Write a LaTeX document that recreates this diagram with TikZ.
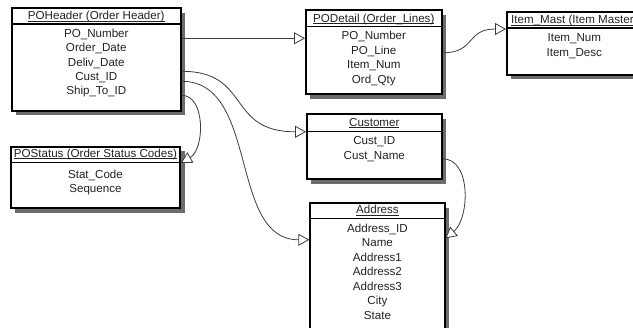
\documentclass[tikz,border=0pt]{standalone}
\usepackage{fontspec}
\setmainfont{Liberation Sans}
\usetikzlibrary{arrows.meta,calc,shadows}
\definecolor{shade}{RGB}{108,108,108}
\definecolor{ink}{RGB}{35,35,35}
\definecolor{wire}{RGB}{60,60,60}
% underlined table title, rule just below the baseline
\newcommand\ttl[1]{\setbox0\hbox{#1}\rlap{\rule[-1.7pt]{\wd0}{0.7pt}}\box0}
% column names of a table: name, first baseline below top, spacing, list
\newcommand\tablerows[4]{%
  \foreach \txt [count=\k] in {#4}
    \node[rowtxt] (#1-\k) at ($(#1.north)+(0,{#2+(\k-1)*#3})$) {\txt};}
% line under the title of a table
\newcommand\tablesep[2]{\draw[sepline] ($(#1.north west)+(0,#2)$) -- ($(#1.north east)+(0,#2)$);}

\begin{document}
\begin{tikzpicture}[x=1pt,y=-1pt,
  font=\fontsize{11.6}{14}\selectfont,
  tbl/.style={draw=black, line width=1.6pt, fill=white, inner sep=0pt, anchor=north west,
    drop shadow={shadow xshift=4.5pt, shadow yshift=-4.5pt, fill=shade, opacity=1}},
  sepline/.style={draw=black, line width=1.5pt},
  ttlnode/.style={anchor=base, inner sep=0pt, text=ink},
  rowtxt/.style={anchor=base, inner sep=0pt, text=ink},
  link/.style={draw=wire, line width=0.8pt, -{Triangle[length=11pt,width=12pt,fill=white]}}
]
\useasboundingbox (0,0) rectangle (633,328);
\fill[white] (0,0) rectangle (633,328);
\clip (0,0) rectangle (633,328);

% ---- POHeader
\node[tbl, minimum width=169pt, minimum height=102.7pt] (poh) at (11,7.3) {};
\tablesep{poh}{16.7}
\node[ttlnode] (poh-t) at ($(poh.north)+(0,12.7)$) {\ttl{POHeader (Order Header)}};
\tablerows{poh}{30}{14.4}{PO\_Number,Order\_Date,Deliv\_Date,Cust\_ID,Ship\_To\_ID}

% ---- PODetail
\node[tbl, minimum width=136pt, minimum height=84pt] (pod) at (305,9.3) {};
\tablesep{pod}{17.4}
\node[ttlnode] (pod-t) at ($(pod.north)+(0,13)$) {\ttl{PODetail (Order\_Lines)}};
\tablerows{pod}{30.7}{14.5}{PO\_Number,PO\_Line,Item\_Num,Ord\_Qty}

% ---- Item_Mast
\node[tbl, minimum width=135pt, minimum height=63pt] (itm) at (506,11) {};
\tablesep{itm}{17}
\node[ttlnode, anchor=base west] (itm-t) at ($(itm.north west)+(5,13)$) {\ttl{Item\_Mast (Item Master}};
\tablerows{itm}{31}{14.5}{Item\_Num,Item\_Desc}

% ---- Customer
\node[tbl, minimum width=135pt, minimum height=65pt] (cus) at (306,113.3) {};
\tablesep{cus}{18.4}
\node[ttlnode] (cus-t) at ($(cus.north)+(0,13.2)$) {\ttl{Customer}};
\tablerows{cus}{31.7}{14.3}{Cust\_ID,Cust\_Name}

% ---- Address
\node[tbl, minimum width=134.7pt, minimum height=140pt] (adr) at (309.3,202.3) {};
\tablesep{adr}{16.4}
\node[ttlnode] (adr-t) at ($(adr.north)+(0,11.7)$) {\ttl{Address}};
\tablerows{adr}{30}{14.5}{Address\_ID,Name,Address1,Address2,Address3,City,State}

% ---- POStatus
\node[tbl, minimum width=169.3pt, minimum height=61.3pt] (pos) at (10,146) {};
\tablesep{pos}{16.7}
\node[ttlnode] (pos-t) at ($(pos.north)+(0,11.3)$) {\ttl{POStatus (Order Status Codes)}};
\tablerows{pos}{32.3}{14}{Stat\_Code,Sequence}

% ---- relationships
\draw[link] ($(poh.north east)+(0,31)$) -- ($(pod.north west)+(0,29)$);
\draw[link] ($(pod.north east)+(0,43.5)$) .. controls +(33,0) and +(-40,0) .. ($(itm.north west)+(0,18)$);
\draw[link] ($(poh.north east)+(0,64)$) .. controls +(70,0) and +(-80,0) .. ($(cus.north west)+(0,18.5)$);
\draw[link] ($(poh.north east)+(0,74)$) .. controls +(78,0) and +(-81,0) .. ($(adr.north west)+(0,37.5)$);
\draw[link] ($(poh.north east)+(0,88)$) .. controls +(24,0) and +(24,-14) .. ($(pos.north east)+(0,17)$);
\draw[link] ($(cus.north east)+(0,45.5)$) .. controls +(29,0) and +(24,-20) .. ($(adr.north east)+(0,36)$);
\end{tikzpicture}
\end{document}
